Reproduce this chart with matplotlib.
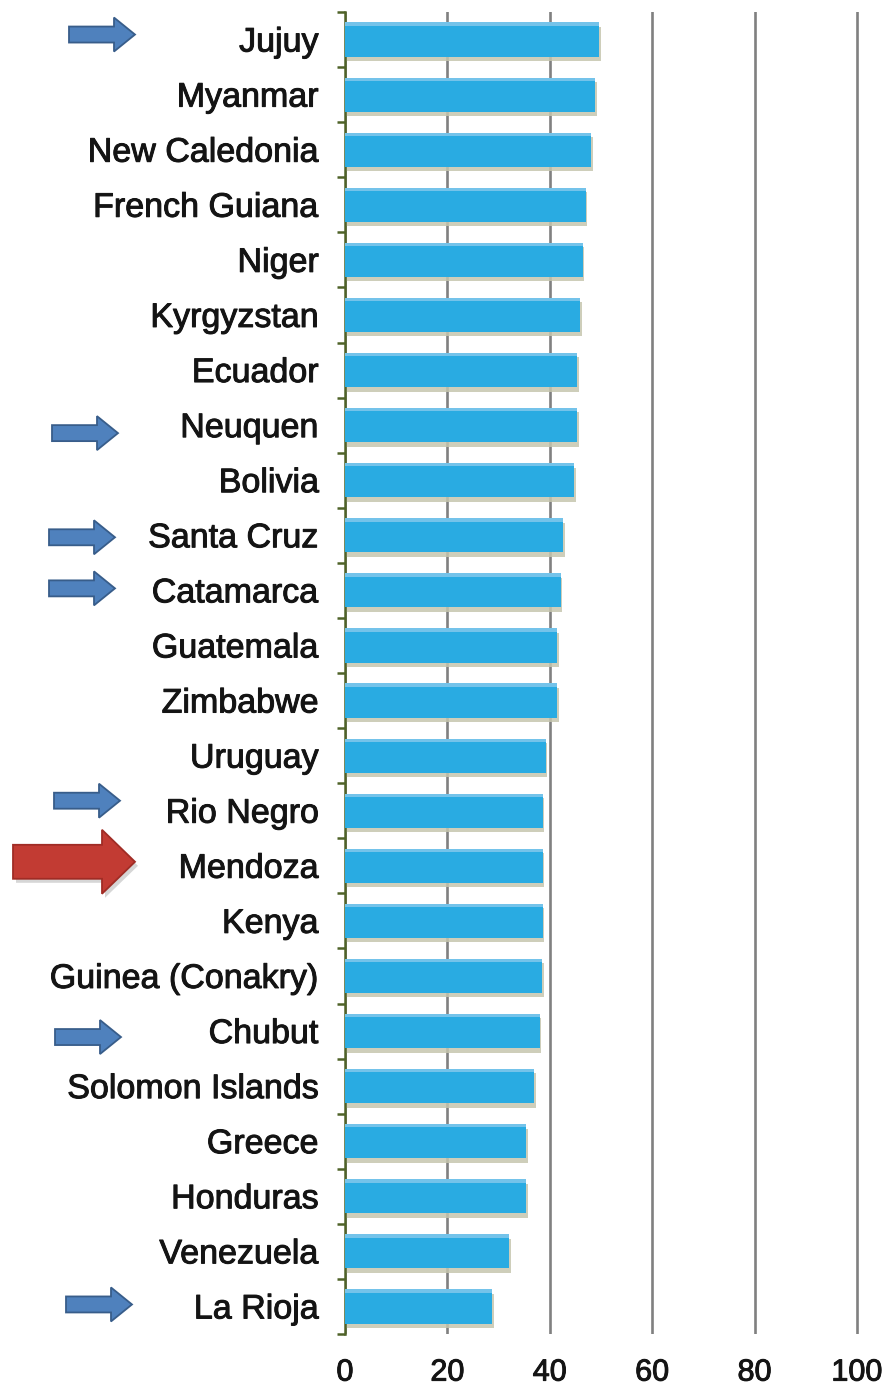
import matplotlib
matplotlib.use("Agg")
import matplotlib.pyplot as plt
import matplotlib.patheffects as pe
import numpy as np
from matplotlib.patches import Polygon
from matplotlib.transforms import IdentityTransform

# ---- data ------------------------------------------------------------------
countries = [
    "Jujuy", "Myanmar", "New Caledonia", "French Guiana", "Niger", "Kyrgyzstan",
    "Ecuador", "Neuquen", "Bolivia", "Santa Cruz", "Catamarca", "Guatemala",
    "Zimbabwe", "Uruguay", "Rio Negro", "Mendoza", "Kenya", "Guinea (Conakry)",
    "Chubut", "Solomon Islands", "Greece", "Honduras", "Venezuela", "La Rioja",
]
values = [
    49.6, 48.8, 48.1, 47.0, 46.4, 45.9,
    45.3, 45.3, 44.7, 42.6, 42.1, 41.5,
    41.5, 39.2, 38.6, 38.6, 38.6, 38.5,
    38.0, 36.9, 35.4, 35.4, 32.0, 28.8,
]
x_ticks = [0, 20, 40, 60, 80, 100]

# provinces flagged with a small blue arrow, and the one with the big red arrow
highlighted = ["Jujuy", "Neuquen", "Santa Cruz", "Catamarca", "Rio Negro",
               "Chubut", "La Rioja"]
focus = "Mendoza"

# ---- styling -----------------------------------------------------------------
BAR = "#29ABE2"
BAR_TOP = "#74C3EA"
SHADOW = "#c6c6ae"
GRID = "#808080"
SPINE = "#4F6228"
TEXT = "#141414"

plt.rcParams["font.family"] = ["Liberation Sans", "DejaVu Sans"]

W, H = 889, 1389
fig = plt.figure(figsize=(W / 100, H / 100), dpi=100)
ax = fig.add_axes([345 / W, 55 / H, 512 * 1.01 / W, 1322 / H])

n = len(countries)
y = np.arange(n)
vals = np.array(values)
bh = 0.62

# soft drop shadow, main bar, light top edge
ax.barh(y + 0.08, vals + 0.35, height=bh, color=SHADOW, alpha=0.85, lw=0, zorder=2)
ax.barh(y, vals, height=bh, color=BAR, lw=0, zorder=3)
ax.barh(y - bh / 2 + 0.03, vals, height=0.06, color=BAR_TOP, lw=0, zorder=4)

ax.set_xlim(0, 101)
ax.set_ylim(n - 0.5, -0.5)

ax.set_xticks(x_ticks)
ax.set_xticklabels([str(t) for t in x_ticks])
ax.set_yticks(y)
ax.set_yticklabels(countries)
ax.set_yticks(np.arange(-0.5, n, 1), minor=True)

ax.xaxis.grid(True, color=GRID, lw=1.9, zorder=1)
ax.set_axisbelow(True)

ax.tick_params(axis="x", length=0, pad=17, labelsize=22, labelcolor=TEXT)
ax.tick_params(axis="y", which="major", length=0, pad=19, labelsize=24.5,
               labelcolor=TEXT)
ax.tick_params(axis="y", which="minor", length=6, width=1.8, color=SPINE,
               direction="out")

# the original text is rendered a touch heavier than regular weight
thicken = [pe.withStroke(linewidth=0.7, foreground=TEXT)]
for lab in ax.get_xticklabels() + ax.get_yticklabels():
    lab.set_path_effects(thicken)

for side in ("top", "right", "bottom"):
    ax.spines[side].set_visible(False)
ax.spines["left"].set_color(SPINE)
ax.spines["left"].set_linewidth(1.8)


def arrow(x0, x1, yc, body, head, head_len, face, edge, shadow=False):
    """Block arrow in figure pixels, pointing right."""
    xh = x1 - head_len
    pts = [(x0, yc - body), (xh, yc - body), (xh, yc - head), (x1, yc),
           (xh, yc + head), (xh, yc + body), (x0, yc + body)]
    if shadow:
        sh = [(px + 3, py - 4) for px, py in pts]
        fig.add_artist(Polygon(sh, closed=True, transform=IdentityTransform(),
                               facecolor="#bbbbbb", edgecolor="none", alpha=0.6))
    fig.add_artist(Polygon(pts, closed=True, transform=IdentityTransform(),
                           facecolor=face, edgecolor=edge, lw=1.3))


def row_px(name):
    return ax.transData.transform((0, countries.index(name)))[1]


# small blue arrows: (tail x, tip x, vertical nudge in px) per province
blue_geom = {
    "Jujuy": (69, 135, 5),
    "Neuquen": (52, 118, -8),
    "Santa Cruz": (49, 115, -2),
    "Catamarca": (49, 115, 2),
    "Rio Negro": (54, 120, 10),
    "Chubut": (55, 121, -6),
    "La Rioja": (66, 132, 2),
}
for name in highlighted:
    x0, x1, dy = blue_geom[name]
    arrow(x0, x1, row_px(name) + dy, 8, 17, 21, "#4F81BD", "#385D8A")

arrow(13, 135, row_px(focus) + 4, 17, 32, 33, "#C23B33", "#A02C25", shadow=True)

fig.savefig("out.png", dpi=100, facecolor="white")
